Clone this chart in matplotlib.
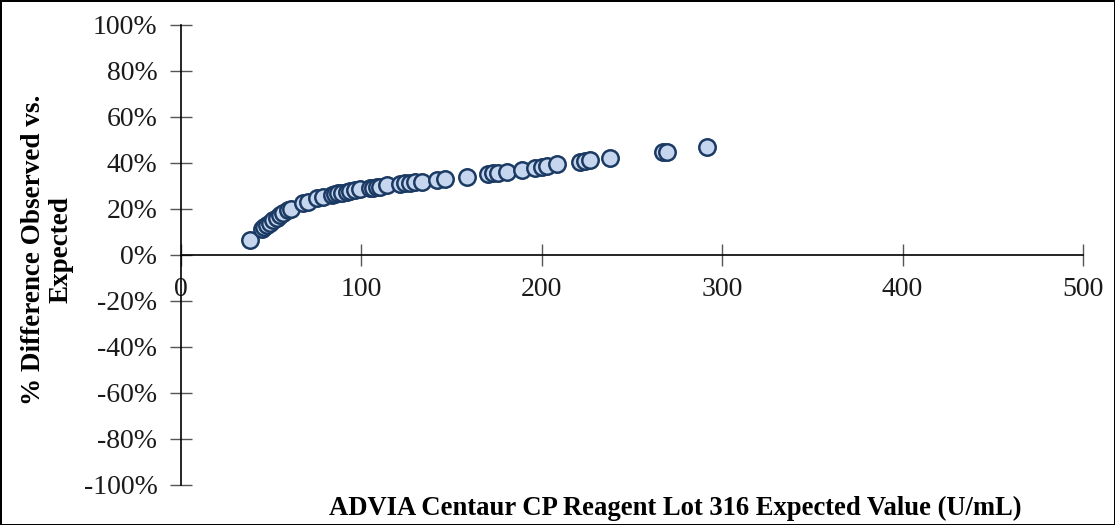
import numpy as np
import matplotlib.pyplot as plt
from matplotlib.ticker import FuncFormatter

# expected value (U/mL) and % difference observed vs expected
expected = [38.2, 44.7, 46.2, 47.5, 49.3, 51.2, 53.0, 54.9, 56.7, 59.5, 61.0,
            67.8, 70.6, 75.2, 78.9, 83.5, 85.4, 87.2, 89.1, 91.9, 93.7, 96.5,
            99.2, 104.8, 106.6, 108.5, 110.3, 114.0, 121.4, 124.2, 126.9, 129.7,
            133.4, 141.7, 146.3, 158.4, 170.4, 173.1, 175.9, 180.5, 188.8, 196.2,
            200.0, 202.7, 208.3, 221.2, 224.0, 226.7, 237.8, 267.4, 269.2, 291.4]
pct_diff = [6.5, 11.2, 12.0, 13.0, 14.1, 15.2, 16.2, 17.4, 18.4, 19.6, 20.1,
            22.5, 23.2, 24.6, 25.4, 26.1, 26.5, 26.8, 27.1, 27.5, 28.0, 28.3,
            28.6, 29.0, 29.3, 29.4, 29.7, 30.4, 30.9, 31.2, 31.4, 31.6,
            31.9, 32.6, 33.0, 34.0, 35.2, 35.5, 35.8, 36.1, 37.0, 37.7,
            38.1, 38.7, 39.4, 40.6, 40.9, 41.3, 42.3, 44.9, 44.9, 47.1]

x_ticks = [0, 100, 200, 300, 400, 500]
y_ticks = [-100, -80, -60, -40, -20, 0, 20, 40, 60, 80, 100]

serif = ['Liberation Serif', 'DejaVu Serif']

fig = plt.figure(figsize=(11.15, 5.25), dpi=100, edgecolor='black', linewidth=2)
ax = fig.add_axes([181/1115, 1 - 485/525, (1083 - 181)/1115, 460/525])

ax.scatter(expected, pct_diff, s=140, facecolor='#c6d6ee', edgecolor='#1b3a63',
           linewidth=1.8, zorder=3, clip_on=False)

ax.set_xlim(0, 500)
ax.set_ylim(-100, 100)
ax.set_xticks(x_ticks)
ax.set_yticks(y_ticks)
ax.yaxis.set_major_formatter(FuncFormatter(lambda v, p: '%d%%' % v))

ax.spines['top'].set_visible(False)
ax.spines['right'].set_visible(False)
ax.spines['bottom'].set_position(('data', 0))
for s in ['left', 'bottom']:
    ax.spines[s].set_linewidth(1.2)

ax.tick_params(axis='both', direction='inout', length=16, width=1, color='#555555')
ax.tick_params(axis='y', pad=9)
ax.tick_params(axis='x', pad=8)
for lab in ax.get_xticklabels() + ax.get_yticklabels():
    lab.set_fontfamily(serif)
    lab.set_fontsize(20)
    lab.set_color('#1a1a1a')

fig.text(675/1115, 1 - 508/525, 'ADVIA Centaur CP Reagent Lot 316 Expected Value (U/mL)',
         ha='center', va='center', fontsize=19.2, fontweight='bold', family=serif)
fig.text(47/1115, 1 - 250/525, '% Difference Observed vs.\nExpected', rotation=90,
         ha='center', va='center', fontsize=19.5, fontweight='bold', family=serif,
         linespacing=1.15, multialignment='center')

fig.savefig('out.png', dpi=100, edgecolor=fig.get_edgecolor())
